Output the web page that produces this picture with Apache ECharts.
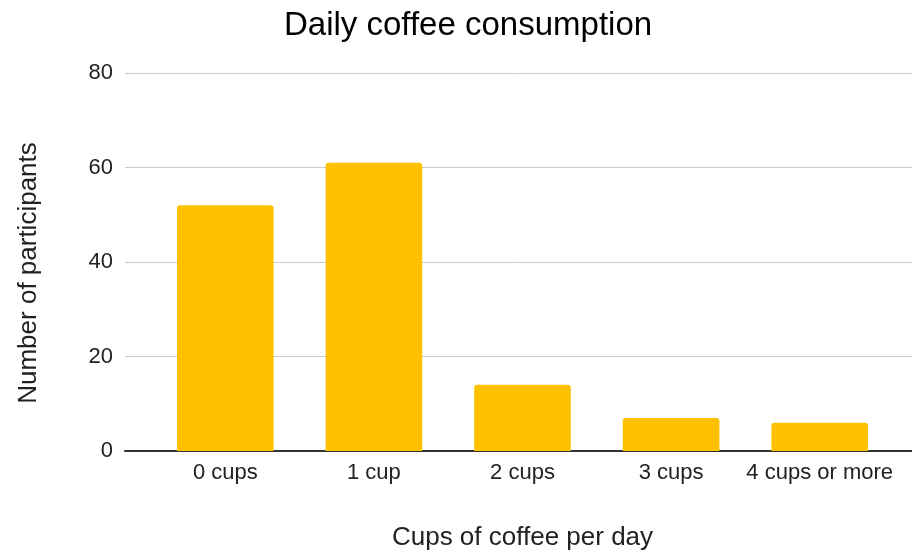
<!DOCTYPE html>
<html>
<head>
<meta charset="utf-8">
<script src="https://cdn.jsdelivr.net/npm/echarts@6/dist/echarts.min.js"></script>
<style>
  html, body { margin: 0; padding: 0; background: #fff; }
  #chart { width: 912px; height: 557px; }
</style>
</head>
<body>
<div id="chart"></div>
<script>
// Daily coffee consumption survey
const categories = ['0 cups', '1 cup', '2 cups', '3 cups', '4 cups or more'];
const participants = [52, 61, 14, 7, 6];
const yTicks = { min: 0, max: 80, interval: 20 };

const FONT = '"Liberation Sans", Arial, sans-serif';
const chart = echarts.init(document.getElementById('chart'));

chart.setOption({
  backgroundColor: '#ffffff',
  animation: false,
  title: {
    text: 'Daily coffee consumption',
    left: 279,
    top: 4,
    textStyle: { fontFamily: FONT, fontSize: 33, fontWeight: 'normal', color: '#000' }
  },
  graphic: [
    {
      type: 'text',
      x: 29, y: 273,
      rotation: Math.PI / 2,
      style: {
        text: 'Number of participants',
        font: '26px ' + FONT,
        fill: '#222',
        align: 'center',
        verticalAlign: 'middle'
      }
    }
  ],
  grid: [
    // full-width frame holding the gridlines and baseline
    { left: 125, right: 0, top: 73, bottom: 106 },
    // inner band holding the bars
    { left: 151, right: 18, top: 73, bottom: 106 }
  ],
  xAxis: [
    {
      gridIndex: 0, type: 'value', min: 0, max: 1,
      axisLine: { show: true, onZero: false, lineStyle: { color: '#333', width: 2 } },
      axisTick: { show: false }, axisLabel: { show: false }, splitLine: { show: false }
    },
    {
      gridIndex: 1, type: 'category', data: categories,
      axisLine: { show: false }, axisTick: { show: false },
      axisLabel: { interval: 0, fontFamily: FONT, fontSize: 22, color: '#222', margin: 11 },
      name: 'Cups of coffee per day',
      nameLocation: 'middle', nameGap: 74,
      nameTextStyle: { fontFamily: FONT, fontSize: 26, color: '#222' }
    }
  ],
  yAxis: [
    {
      gridIndex: 0, type: 'value', min: yTicks.min, max: yTicks.max, interval: yTicks.interval,
      axisLine: { show: false }, axisTick: { show: false },
      axisLabel: { fontFamily: FONT, fontSize: 22, color: '#222', margin: 12 },
      splitLine: { lineStyle: { color: '#cccccc', width: 1 } }
    },
    {
      gridIndex: 1, type: 'value', min: yTicks.min, max: yTicks.max, interval: yTicks.interval,
      show: false
    }
  ],
  series: [
    {
      type: 'bar',
      xAxisIndex: 1, yAxisIndex: 1,
      data: participants,
      barWidth: '65%',
      itemStyle: { color: '#ffc000', borderRadius: [3, 3, 0, 0] }
    }
  ]
});
</script>
</body>
</html>
